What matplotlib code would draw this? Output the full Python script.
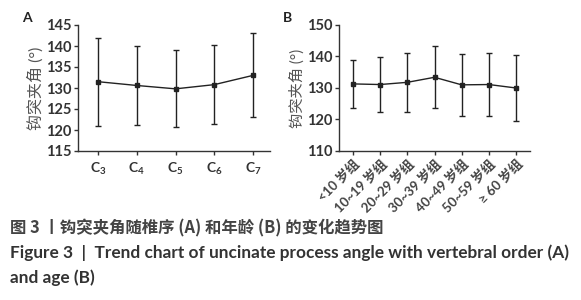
import matplotlib
matplotlib.use("Agg")
import matplotlib.pyplot as plt

plt.rcParams['font.family'] = ['Lato', 'Noto Sans CJK SC', 'DejaVu Sans']
plt.rcParams['mathtext.fontset'] = 'custom'
plt.rcParams['mathtext.rm'] = 'Lato:bold'
plt.rcParams['mathtext.it'] = 'Lato:bold'
plt.rcParams['mathtext.bf'] = 'Lato:bold'

# Panel A data
cats_a = ['$\\mathbf{C_3}$', '$\\mathbf{C_4}$', '$\\mathbf{C_5}$', '$\\mathbf{C_6}$', '$\\mathbf{C_7}$']
mean_a = [131.5, 130.6, 129.8, 130.8, 133.0]
sd_a = [10.5, 9.4, 9.2, 9.4, 10.0]
yticks_a = [115, 120, 125, 130, 135, 140, 145]

# Panel B data
cats_b = ['<10 岁组', '10~19 岁组', '20~29 岁组', '30~39 岁组', '40~49 岁组', '50~59 岁组', '≥ 60 岁组']
mean_b = [131.3, 131.1, 131.8, 133.4, 131.0, 131.1, 130.0]
sd_b = [7.6, 8.6, 9.4, 9.8, 9.8, 10.0, 10.5]
yticks_b = [110, 120, 130, 140, 150]

ylabel = '钩突夹角 (°)'
cap1 = '图 3 丨钩突夹角随椎序 (A) 和年龄 (B) 的变化趋势图'
cap2 = 'Figure 3  |  Trend chart of uncinate process angle with vertebral order (A)'
cap3 = 'and age (B)'

W, H = 581, 300
fig = plt.figure(figsize=(W/100, H/100), dpi=100)

tickc = '#333333'

def style(ax):
    for s in ['top', 'right']:
        ax.spines[s].set_visible(False)
    for s in ['left', 'bottom']:
        ax.spines[s].set_linewidth(1.0)
        ax.spines[s].set_color('#333333')
    ax.tick_params(axis='both', direction='out', length=3, width=1.0, color='#333333',
                   labelcolor=tickc, pad=1.5)

def ax_rect(l, r, t, b):
    return [l/W, 1-b/H, (r-l)/W, (b-t)/H]

axA = fig.add_axes(ax_rect(78, 270, 25, 151))
xa = list(range(len(cats_a)))
axA.errorbar(xa, mean_a, yerr=sd_a, color='#222222', lw=1.0, elinewidth=1.0,
             capsize=2.5, capthick=1.0, marker='s', ms=3)
axA.set_xlim(-0.52, len(cats_a)-1+0.44)
axA.set_ylim(115, 145)
style(axA)
axA.set_yticks(yticks_a)
axA.set_yticklabels([str(v) for v in yticks_a], fontsize=10.5, fontweight='bold')
axA.set_xticks(xa)
axA.set_xticklabels(cats_a, fontsize=10)
axA.tick_params(axis='x', pad=4)
axA.set_ylabel(ylabel, fontsize=11.5, color='#555555', labelpad=2)

axB = fig.add_axes(ax_rect(339, 530, 25, 151))
xb = list(range(len(cats_b)))
axB.errorbar(xb, mean_b, yerr=sd_b, color='#222222', lw=1.0, elinewidth=1.0,
             capsize=2.5, capthick=1.0, marker='s', ms=3)
axB.set_xlim(-0.51, len(cats_b)-1+0.51)
axB.set_ylim(110, 150)
style(axB)
axB.set_yticks(yticks_b)
axB.set_yticklabels([str(v) for v in yticks_b], fontsize=10.5, fontweight='bold')
axB.set_xticks(xb)
axB.set_xticklabels(cats_b, fontsize=9.5, rotation=45, ha='right', rotation_mode='anchor',
                    color='#444444', fontweight='bold')
axB.set_ylabel(ylabel, fontsize=11, color='#555555', labelpad=2)

fig.text(22/W, 1-18/H, 'A', fontsize=10, fontweight='bold', color='#222222', va='center', ha='left')
fig.text(283/W, 1-18/H, 'B', fontsize=10, fontweight='bold', color='#222222', va='center', ha='left')

fig.text(10/W, 1-228/H, cap1, fontsize=11.8, fontweight='bold', color='#444444', va='center', ha='left',
         family=['Noto Sans CJK SC', 'DejaVu Sans'])
fig.text(10/W, 1-253/H, cap2, fontsize=12.4, fontweight='bold', color='#333333', va='center', ha='left')
fig.text(10/W, 1-278/H, cap3, fontsize=12.4, fontweight='bold', color='#333333', va='center', ha='left')

fig.savefig('out.png', dpi=100)
